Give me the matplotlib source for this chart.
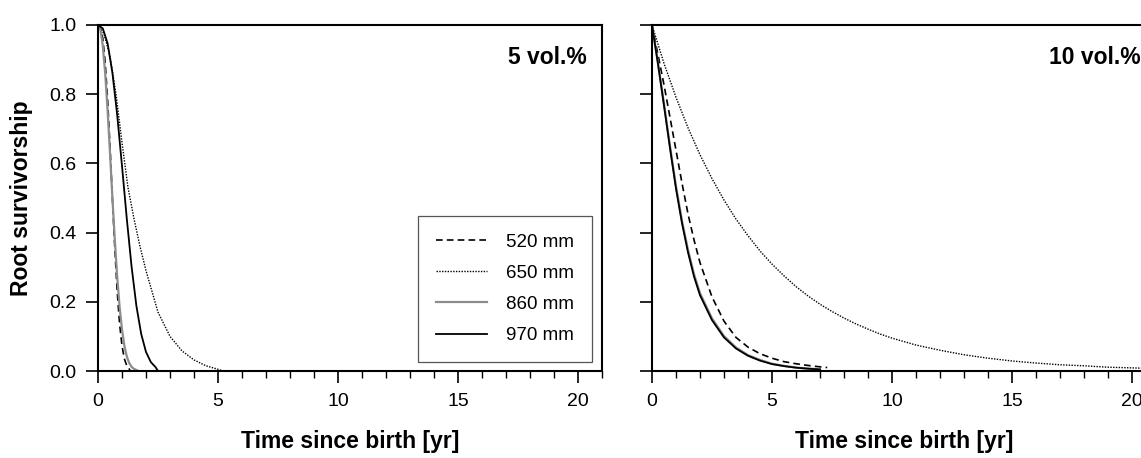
import numpy as np
import matplotlib
matplotlib.use("Agg")
import matplotlib.pyplot as plt
from matplotlib.ticker import MultipleLocator, FormatStrFormatter

plt.rcParams['font.family'] = ['Liberation Sans', 'DejaVu Sans']

# Sobrevivência das raízes, 5 vol.%
t5_520 = [0, 0.1, 0.2, 0.3, 0.4, 0.5, 0.6, 0.7, 0.8, 0.9, 1.0, 1.1, 1.2, 1.3, 1.35]
s5_520 = [1.0, 0.993, 0.961, 0.891, 0.785, 0.649, 0.498, 0.355, 0.230, 0.136, 0.073, 0.035, 0.015, 0.006, 0.0]

t5_650 = [0, 0.25, 0.5, 0.75, 1.0, 1.25, 1.5, 1.75, 2.0, 2.5, 3.0, 3.5, 4.0, 4.5, 5.0, 5.2]
s5_650 = [1.0, 0.975, 0.91, 0.80, 0.66, 0.53, 0.44, 0.36, 0.29, 0.17, 0.10, 0.058, 0.032, 0.015, 0.005, 0.0]

t5_860 = [0, 0.1, 0.2, 0.3, 0.4, 0.5, 0.6, 0.7, 0.8, 0.9, 1.0, 1.1, 1.2, 1.3, 1.4, 1.5, 1.6, 1.68]
s5_860 = [1.0, 0.987, 0.940, 0.860, 0.753, 0.630, 0.501, 0.379, 0.272, 0.185, 0.120, 0.073, 0.042, 0.023, 0.012, 0.006, 0.003, 0.0]

t5_970 = [0, 0.2, 0.4, 0.6, 0.8, 1.0, 1.2, 1.4, 1.6, 1.8, 2.0, 2.2, 2.4, 2.5]
s5_970 = [1.0, 0.990, 0.947, 0.862, 0.740, 0.593, 0.440, 0.301, 0.188, 0.107, 0.055, 0.026, 0.011, 0.0]

# Sobrevivência das raízes, 10 vol.%
t10 = [0, 0.25, 0.5, 0.75, 1.0, 1.25, 1.5, 1.75, 2.0, 2.5, 3.0, 3.5, 4.0, 4.5, 5.0, 5.5, 6.0, 6.5, 7.0]
s10_860 = [1.0, 0.89, 0.772, 0.65, 0.534, 0.434, 0.35, 0.28, 0.225, 0.152, 0.101, 0.068, 0.046, 0.032, 0.021, 0.015, 0.010, 0.007, 0.005]
s10_970 = [1.0, 0.887, 0.767, 0.644, 0.527, 0.427, 0.343, 0.273, 0.219, 0.147, 0.097, 0.065, 0.044, 0.030, 0.020, 0.014, 0.0096, 0.0067, 0.0045]

t10_520 = [0, 0.25, 0.5, 0.75, 1.0, 1.25, 1.5, 1.75, 2.0, 2.5, 3.0, 3.5, 4.0, 4.5, 5.0, 5.5, 6.0, 6.5, 7.0, 7.3]
s10_520 = [1.0, 0.914, 0.827, 0.733, 0.638, 0.543, 0.454, 0.379, 0.313, 0.214, 0.144, 0.097, 0.069, 0.050, 0.037, 0.027, 0.021, 0.016, 0.012, 0.010]

t10_650 = [0, 0.5, 1, 1.5, 2, 2.5, 3, 3.5, 4, 4.5, 5, 5.5, 6, 6.5, 7, 7.5, 8, 8.5, 9, 9.5, 10,
           11, 12, 13, 14, 15, 16, 17, 18, 19, 20, 21]
s10_650 = [1.0, 0.889, 0.791, 0.703, 0.625, 0.556, 0.494, 0.439, 0.391, 0.347, 0.309, 0.275, 0.244,
           0.217, 0.193, 0.172, 0.153, 0.136, 0.121, 0.107, 0.095,
           0.075, 0.060, 0.047, 0.037, 0.029, 0.023, 0.018, 0.015, 0.011, 0.009, 0.007]

legendas = ['520 mm', '650 mm', '860 mm', '970 mm']
estilos = [dict(color='black', linestyle=(0, (4, 2.5)), linewidth=1.2),
           dict(color='black', linestyle=(0, (1, 1)), linewidth=1.0),
           dict(color='#8c8c8c', linestyle='-', linewidth=1.6),
           dict(color='black', linestyle='-', linewidth=1.3)]

fig = plt.figure(figsize=(11.41, 4.58), dpi=100)
W, H = 1141, 458
ax1 = fig.add_axes([98 / W, 1 - 371 / H, 504 / W, 346 / H])
ax2 = fig.add_axes([652 / W, 1 - 371 / H, 504 / W, 346 / H])

curvas5 = [(t5_520, s5_520), (t5_650, s5_650), (t5_860, s5_860), (t5_970, s5_970)]
curvas10 = [(t10_520, s10_520), (t10_650, s10_650), (t10, s10_860), (t10, s10_970)]

for (t, s), rot, est in zip(curvas5, legendas, estilos):
    ax1.plot(t, s, label=rot, **est)
for (t, s), est in zip(curvas10, estilos):
    ax2.plot(t, s, **est)

for ax in (ax1, ax2):
    ax.set_xlim(0, 21)
    ax.set_ylim(0, 1)
    ax.xaxis.set_major_locator(MultipleLocator(5))
    ax.xaxis.set_minor_locator(MultipleLocator(1))
    ax.yaxis.set_major_locator(MultipleLocator(0.2))
    ax.yaxis.set_major_formatter(FormatStrFormatter('%.1f'))
    ax.tick_params(axis='both', which='major', direction='out', length=8.5, width=1.2,
                   labelsize=14, pad=7)
    ax.tick_params(axis='x', which='minor', direction='out', length=5, width=1.0)
    ax.tick_params(top=False, right=False)
    for sp in ax.spines.values():
        sp.set_linewidth(1.5)
    ax.set_xlabel('Time since birth [yr]', fontsize=16.5, fontweight='bold', labelpad=15)

ax2.tick_params(axis='y', labelleft=False)
ax1.set_ylabel('Root survivorship', fontsize=16.5, fontweight='bold', labelpad=12)

ax1.text(0.97, 0.905, '5 vol.%', transform=ax1.transAxes, ha='right', va='center',
         fontsize=16.5, fontweight='bold')
ax2.text(0.97, 0.905, '10 vol.%', transform=ax2.transAxes, ha='right', va='center',
         fontsize=16.5, fontweight='bold')

leg = ax1.legend(loc='lower right', bbox_to_anchor=(0.98, 0.026), borderaxespad=0,
                 fontsize=13.5, handlelength=2.75, handletextpad=1.0, labelspacing=0.75,
                 borderpad=0.95, fancybox=False, framealpha=1)
leg.get_frame().set_edgecolor('#555555')
leg.get_frame().set_linewidth(0.9)

fig.savefig('out.png', dpi=100)
